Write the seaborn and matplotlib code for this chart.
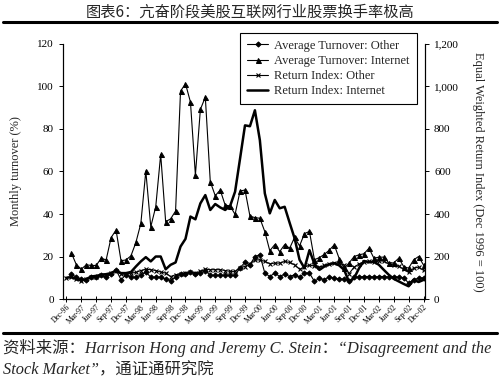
import numpy as np
import pandas as pd
import matplotlib
matplotlib.use('Agg')
import matplotlib.pyplot as plt
import seaborn as sns
from matplotlib.lines import Line2D
from matplotlib.ticker import FuncFormatter

# monthly observations, Dec-96 .. Dec-02
months = pd.date_range('1996-12-01', '2002-12-01', freq='MS')
month_labels = list(months.strftime('%b-%y'))

# monthly turnover (%), left axis
turnover_internet = [
    np.nan,
    21.6, 16.1, 14.1, 16.1, 15.8, 15.8, 19.2, 18.4, 28.9, 32.5,
    18.0, 18.4, 20.3, 26.6, 35.6, 60.2, 34.0, 43.4, 68.0, 36.4,
    37.7, 41.4, 97.8, 101.3, 92.7, 58.3, 89.2, 95.0, 55.2, 48.6,
    51.3, 44.2, 43.8, 39.8, 50.8, 51.3, 39.0, 38.3, 38.0, 31.7,
    22.7, 25.6, 22.3, 25.6, 23.9, 29.0, 25.0, 30.8, 31.8, 18.5,
    19.5, 21.0, 23.0, 25.5, 19.0, 14.5, 17.0, 20.0, 20.8, 21.3,
    23.9, 19.2, 19.7, 19.7, 17.0, 17.0, 19.2, 15.3, 14.5, 18.4,
    20.0, 16.0,
]
turnover_other = [
    np.nan,
    11.7, 10.3, 9.4, 9.1, 10.2, 10.6, 11.1, 10.3, 11.9, 13.7,
    9.1, 11.4, 10.3, 10.3, 11.2, 12.7, 10.3, 10.3, 10.3, 9.4,
    8.6, 10.3, 11.7,
    11.7, 12.5, 11.9, 12.2, 13.4, 11.1, 11.1, 11.1, 11.1, 11.1,
    11.1, 14.8, 17.2, 16.1, 20.0, 20.8, 12.2, 10.6, 12.2, 10.6,
    11.7, 10.6, 11.4, 10.3,
    12.2, 12.2, 8.3, 9.8, 9.1, 10.6, 9.8, 9.4, 9.4, 8.3,
    10.6, 10.3, 10.6, 10.6, 10.3, 10.6, 10.6, 10.3, 10.6, 10.3,
    10.0, 7.5, 9.1, 9.8, 10.0,
]

# equal weighted return index (Dec 1996 = 100), right axis
return_internet = [
    100, 103, 94, 87, 94, 106, 109, 114, 117, 122,
    134, 122, 122, 127, 153, 177, 197, 177, 200, 200,
    140, 161, 172, 247, 283, 388, 375, 450, 489, 419,
    447, 431, 419, 438, 505, 660, 817, 813, 888, 747,
    497, 403, 466, 427, 434, 359, 286, 185, 145, 230,
    165, 137, 153, 164, 169, 158, 137, 80, 98, 145,
    179, 173, 176, 161, 137, 114, 95, 83, 71, 60,
    91, 80, 90,
]
return_other = [
    100, 103, 94, 87, 94, 103, 106, 111, 114, 122,
    134, 117, 117, 122, 125, 134, 140, 138, 134, 127,
    122, 106, 114, 119,
    122, 127, 122, 130, 140, 138, 138, 138, 134, 130,
    130, 148, 153, 166, 184, 184, 177, 166, 169, 169,
    177, 172, 161, 140,
    150, 160, 155, 150, 158, 165, 170, 168, 160, 120,
    150, 165, 175, 178, 172, 180, 178, 165, 160, 155,
    140, 125, 145, 150, 135,
]

series_labels = ['Average Turnover: Other', 'Average Turnover: Internet',
                 'Return Index: Other', 'Return Index: Internet']

title = '图表6：亢奋阶段美股互联网行业股票换手率极高'
source_1 = '资料来源：Harrison Hong and Jeremy C. Stein：“Disagreement and the'
source_2 = 'Stock Market”，通证通研究院'


def create_chart():
    df = pd.DataFrame({
        'm': np.arange(len(months)),
        'turnover_other': turnover_other,
        'turnover_internet': turnover_internet,
        'return_other': return_other,
        'return_internet': return_internet,
    })

    sns.set_style('ticks')
    plt.rcParams['font.family'] = ['Liberation Serif', 'Noto Sans CJK SC']
    plt.rcParams['axes.edgecolor'] = 'black'
    plt.rcParams['xtick.color'] = 'black'
    plt.rcParams['ytick.color'] = 'black'

    fig = plt.figure(figsize=(5, 3.79), dpi=100)
    ax = fig.add_axes([0.126, 0.211, 0.724, 0.673])
    ax2 = ax.twinx()

    common = dict(color='black', estimator=None, errorbar=None, legend=False)
    sns.lineplot(data=df, x='m', y='turnover_other', ax=ax, lw=0.8,
                 marker='D', markersize=2.6, mec='black', **common)
    sns.lineplot(data=df, x='m', y='turnover_internet', ax=ax, lw=0.8,
                 marker='^', markersize=3.6, mec='black', **common)
    sns.lineplot(data=df, x='m', y='return_other', ax=ax2, lw=0.8,
                 marker='x', markersize=3, mew=0.8, mec='black', **common)
    sns.lineplot(data=df, x='m', y='return_internet', ax=ax2, lw=1.8, **common)

    # axes
    ax.set_xlim(-0.7, 72.3)
    ax.set_ylim(0, 120)
    ax.set_yticks(range(0, 121, 20))
    ax2.set_ylim(0, 1200)
    ax2.set_yticks(range(0, 1201, 200))
    ax2.yaxis.set_major_formatter(FuncFormatter(lambda v, p: f'{int(v):,}'))
    ax.set_xticks(range(0, len(months), 3))
    ax.set_xticklabels(month_labels[::3], rotation=45, ha='right',
                       rotation_mode='anchor', fontsize=5.5)
    ax.set_xlabel('')
    ax.tick_params(axis='y', labelsize=8, length=3, width=0.7)
    ax.tick_params(axis='x', length=4, width=0.7, direction='inout', pad=1)
    ax2.tick_params(axis='y', labelsize=8, length=3, width=0.7)

    for a in (ax, ax2):
        a.spines['top'].set_visible(False)
        for s in a.spines.values():
            s.set_linewidth(0.8)

    ax.set_ylabel('Monthly turnover (%)', fontsize=9)
    ax.yaxis.set_label_coords(-0.113, 0.5)
    ax2.set_ylabel('Equal Weighted Return Index (Dec 1996 = 100)', fontsize=9,
                   rotation=-90, va='center', ha='center')
    ax2.yaxis.set_label_coords(1.146, 0.5)

    # legend spanning both axes
    handles = ax.get_lines() + ax2.get_lines()
    leg = ax2.legend(handles, series_labels, loc='upper left',
                     bbox_to_anchor=(0.48, 0.913), bbox_transform=fig.transFigure,
                     frameon=True, fancybox=False, edgecolor='black',
                     fontsize=9, handlelength=1.7, handletextpad=0.5,
                     labelspacing=0.25, borderpad=0.55, borderaxespad=0)
    leg.get_frame().set_linewidth(0.8)
    leg.get_frame().set_alpha(1)

    # title and rules
    fig.text(0.5, 1 - 12 / 379, title, ha='center', va='center', fontsize=11,
             family=['Noto Sans CJK SC'])
    fig.add_artist(Line2D([0.006, 0.994], [0.942, 0.942], color='black',
                          lw=2.2, transform=fig.transFigure))
    fig.add_artist(Line2D([0.006, 0.994], [0.121, 0.121], color='black',
                          lw=2.2, transform=fig.transFigure))

    # source note
    fig.text(0.006, 0.082, source_1, ha='left', va='center', fontsize=11.8,
             style='italic', family=['Liberation Serif', 'Noto Sans CJK SC'])
    fig.text(0.006, 0.024, source_2, ha='left', va='center', fontsize=11.8,
             style='italic', family=['Liberation Serif', 'Noto Sans CJK SC'])

    fig.savefig('out.png', dpi=100)
    plt.close(fig)


if __name__ == '__main__':
    create_chart()
